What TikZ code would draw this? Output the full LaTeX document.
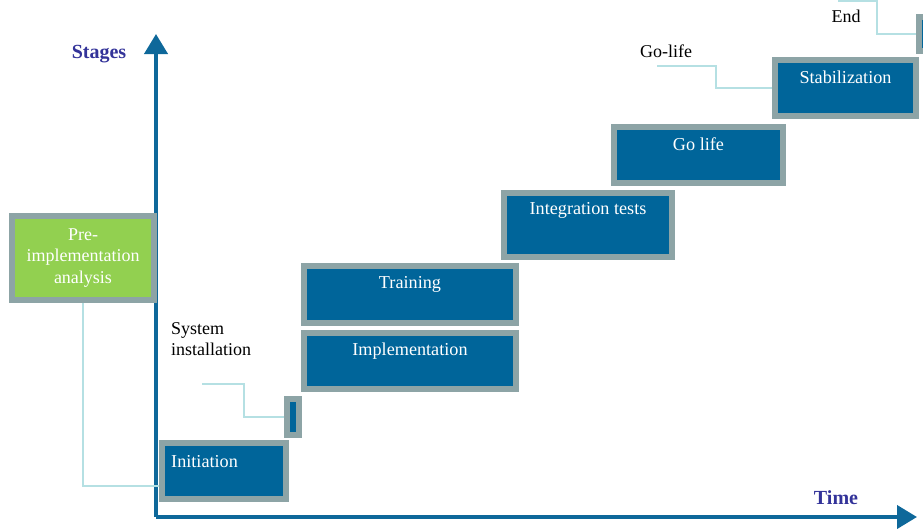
\documentclass[tikz,border=0pt]{standalone}
\usepackage{fontspec}
\setmainfont{Liberation Serif}
\usetikzlibrary{arrows.meta}
\definecolor{stageblue}{HTML}{00659A}
\definecolor{framegray}{HTML}{8DA4A6}
\definecolor{linkcyan}{HTML}{B5E0E3}
\definecolor{axisblue}{HTML}{0E689A}
\definecolor{titleblue}{HTML}{333399}
\definecolor{prefill}{HTML}{92D050}
\tikzset{
  stagebox/.style={draw=framegray, line width=6pt, fill=stageblue, inner sep=0pt},
  prebox/.style={draw=framegray, line width=6pt, fill=prefill, inner sep=0pt,
    text=white, align=center, font=\fontsize{18}{21.5}\selectfont},
  boxtext/.style={text=white, font=\fontsize{18.2}{21.5}\selectfont, inner sep=0pt},
  plaintext/.style={font=\fontsize{18}{21.5}\selectfont, inner sep=0pt},
  axislabel/.style={text=titleblue, font=\fontsize{20}{24}\selectfont\bfseries, inner sep=0pt},
  axis/.style={draw=axisblue, line width=4pt, -{Triangle[length=20pt,width=23pt]}},
  link/.style={draw=linkcyan, line width=2.5pt}
}
\begin{document}
\begin{tikzpicture}[x=1pt, y=-1pt]
\useasboundingbox (0,0) rectangle (923,528);
\begin{scope}
\clip (0,0) rectangle (923,528);

% axes
\coordinate (origin) at (156,517);
\coordinate (ytip) at (156,34);
\coordinate (xtip) at (917,517);
\draw[axis] (origin) -- (ytip);
\draw[axis] (origin) -- (xtip);
\node[axislabel] (stages) at (99,54) {Stages};
\node[axislabel] (time) at (836,498) {Time};

% stage boxes
\node[prebox, minimum width=142pt, minimum height=84pt] (pre) at (83,258)
  {Pre-\\implementation\\analysis};
\node[stagebox, minimum width=124pt, minimum height=56pt] (init) at (224,471) {};
\node[stagebox, minimum width=12pt, minimum height=36pt] (inst) at (293,417) {};
\node[stagebox, minimum width=212pt, minimum height=56pt] (impl) at (410,361) {};
\node[stagebox, minimum width=212pt, minimum height=57pt] (train) at (410,294.5) {};
\node[stagebox, minimum width=168pt, minimum height=64pt] (integ) at (588,225) {};
\node[stagebox, minimum width=169pt, minimum height=56pt] (golife) at (698.5,155) {};
\node[stagebox, minimum width=141pt, minimum height=56pt] (stab) at (845.5,88) {};
\node[stagebox, minimum width=14pt, minimum height=34pt] (endbox) at (926,34) {};

% box titles
\node[boxtext, anchor=west] at ([xshift=12pt, yshift=-22pt]init.north west) {Initiation};
\node[boxtext] at ([yshift=-21pt]impl.north) {Implementation};
\node[boxtext] at ([yshift=-21pt]train.north) {Training};
\node[boxtext] at ([yshift=-20pt]integ.north) {Integration tests};
\node[boxtext] at ([yshift=-20pt]golife.north) {Go life};
\node[boxtext] at ([yshift=-20pt]stab.north) {Stabilization};

% callout texts
\node[plaintext, align=left, anchor=west] (syslabel) at (171,339) {System\\installation};
\node[plaintext] (golabel) at (666,51) {Go-life};
\node[plaintext] (endlabel) at (846,16) {End};

% callout leaders
\coordinate (syslead) at (202,384);
\coordinate (golead) at (657,66);
\coordinate (endlead) at (838,1);
\draw[link] (pre.south) |- ([yshift=-15pt]init.west);
\draw[link] (syslead) -- ++(42,0) |- (inst.west);
\draw[link] (golead) -- ++(59,0) |- (stab.west);
\draw[link] (endlead) -- ++(39,0) |- (endbox.west);
\end{scope}
\end{tikzpicture}
\end{document}
